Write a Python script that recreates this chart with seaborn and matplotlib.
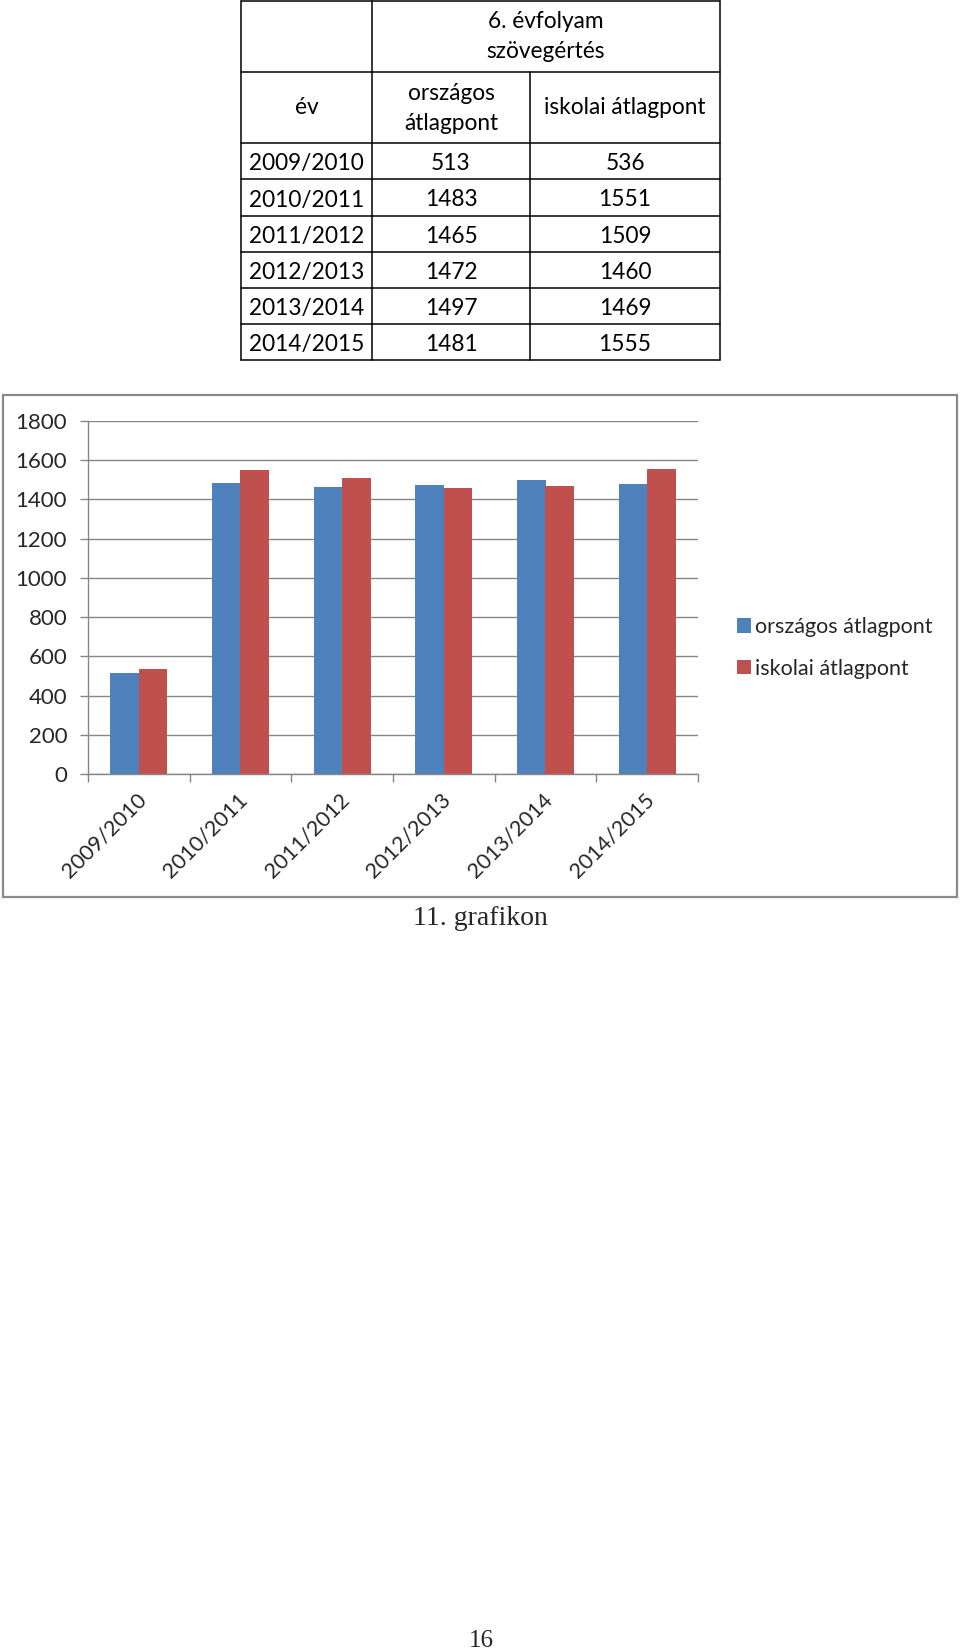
import matplotlib
matplotlib.use("Agg")
import matplotlib.pyplot as plt
import matplotlib.transforms as mtransforms
from matplotlib.patches import Rectangle
from matplotlib.lines import Line2D
import seaborn as sns
import pandas as pd

# ---------------- data ----------------
years = ['2009/2010', '2010/2011', '2011/2012', '2012/2013', '2013/2014', '2014/2015']
orszagos = [513, 1483, 1465, 1472, 1497, 1481]
iskolai = [536, 1551, 1509, 1460, 1469, 1555]
series_names = ['országos átlagpont', 'iskolai átlagpont']
yticks = [0, 200, 400, 600, 800, 1000, 1200, 1400, 1600, 1800]
caption = '11. grafikon'
page_no = '16'

BLUE = '#4F81BD'
RED = '#C0504D'
GRID = '#868686'

sns.set_style('white')
plt.rcParams['font.family'] = ['Lato', 'DejaVu Sans']

W, H = 960, 1651
fig = plt.figure(figsize=(W / 100, H / 100), dpi=100)


def fx(x):
    return x / W


def fy(y):
    return 1 - y / H


# ---------------- table ----------------
TBL_FS = 16.3
col_x = [241, 372, 530, 720]
row_y = [1, 72, 143, 179, 216, 252, 288, 324, 360]
lw_t = 1.1


def hline(x0, x1, y):
    fig.add_artist(Line2D([fx(x0), fx(x1)], [fy(y), fy(y)], color='black', lw=lw_t,
                          transform=fig.transFigure))


def vline(x, y0, y1):
    fig.add_artist(Line2D([fx(x), fx(x)], [fy(y0), fy(y1)], color='black', lw=lw_t,
                          transform=fig.transFigure))


for y in row_y:
    hline(col_x[0], col_x[3], y)
vline(col_x[0], row_y[0], row_y[-1])
vline(col_x[1], row_y[0], row_y[-1])
vline(col_x[2], row_y[1], row_y[-1])
vline(col_x[3], row_y[0], row_y[-1])


def ctext(x, y, s, va='center'):
    fig.text(fx(x), fy(y), s, ha='center', va=va, fontsize=TBL_FS, color='black')


c1 = (col_x[0] + col_x[1]) / 2
c2 = (col_x[1] + col_x[2]) / 2
c3 = (col_x[2] + col_x[3]) / 2
c23 = (col_x[1] + col_x[3]) / 2
ctext(c23, 22, '6. évfolyam')
ctext(c23, 52, 'szövegértés')
ctext(c1, 108, 'év')
ctext(c2, 93, 'országos')
ctext(c2, 123, 'átlagpont')
ctext(c3, 108, series_names[1])
for i, (yr, a, b) in enumerate(zip(years, orszagos, iskolai)):
    yb = (row_y[i + 2] + row_y[i + 3]) / 2 + 9
    ctext(c1, yb, yr, va='baseline')
    ctext(c2, yb, str(a), va='baseline')
    ctext(c3, yb, str(b), va='baseline')

# ---------------- chart frame ----------------
fig.add_artist(Rectangle((fx(3), fy(897)), fx(957) - fx(3), fy(395) - fy(897),
                         transform=fig.transFigure, fill=False, edgecolor='#8a8a8a', lw=1.6))

# ---------------- bar chart ----------------
ax_l, ax_r, ax_t, ax_b = 88, 698, 421, 774
ax = fig.add_axes([fx(ax_l), fy(ax_b), fx(ax_r) - fx(ax_l), fy(ax_t) - fy(ax_b)])

df = pd.DataFrame({
    'év': years * 2,
    'pont': orszagos + iskolai,
    'sorozat': [series_names[0]] * len(years) + [series_names[1]] * len(years),
})
sns.barplot(data=df, x='év', y='pont', hue='sorozat', palette=[BLUE, RED],
            width=0.56, saturation=1, errorbar=None, linewidth=0, ax=ax)

ax.set_xlim(-0.5, len(years) - 0.5)
ax.set_ylim(0, 1800)
ax.set_yticks(yticks)
ax.set_xlabel('')
ax.set_ylabel('')
ax.set_axisbelow(True)
ax.yaxis.grid(True, color=GRID, lw=1.0)
ax.xaxis.grid(False)
for s in ['top', 'right']:
    ax.spines[s].set_visible(False)
for s in ['left', 'bottom']:
    ax.spines[s].set_color(GRID)
    ax.spines[s].set_linewidth(1.0)

TICK_FS = 16
ax.tick_params(axis='y', length=6, width=1.0, color=GRID, pad=9, labelsize=TICK_FS,
               direction='out', left=True)
ax.set_xticks(range(len(years)))
ax.set_xticks([i - 0.5 for i in range(len(years) + 1)], minor=True)
ax.tick_params(axis='x', which='major', length=0, pad=16, labelsize=15.6)
ax.tick_params(axis='x', which='minor', length=6, width=1.0, color=GRID, direction='out',
               bottom=True)
offset = mtransforms.ScaledTranslation(0.04, 0, fig.dpi_scale_trans)
for lab in ax.get_xticklabels():
    lab.set_rotation(45)
    lab.set_ha('right')
    lab.set_va('center')
    lab.set_rotation_mode('anchor')
    lab.set_transform(lab.get_transform() + offset)

handles, labels = ax.get_legend_handles_labels()
ax.legend(handles, labels, loc='center left', bbox_to_anchor=(fx(737), fy(648)),
          bbox_transform=fig.transFigure, frameon=False, fontsize=15.5,
          handlelength=0.65, handleheight=0.65, handletextpad=0.2, labelspacing=1.0,
          borderaxespad=0, borderpad=0)

# ---------------- caption & page number ----------------
fig.text(fx(480), fy(918), caption, ha='center', va='center', fontsize=20,
         family=['Liberation Serif', 'DejaVu Serif'])
fig.text(fx(481), fy(1641), page_no, ha='center', va='center', fontsize=18,
         family=['Liberation Serif', 'DejaVu Serif'])

fig.savefig('out.png', dpi=100)
